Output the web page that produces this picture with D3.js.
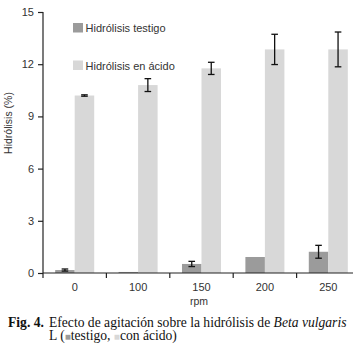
<!DOCTYPE html>
<html>
<head>
<meta charset="utf-8">
<script src="https://cdn.jsdelivr.net/npm/d3@7"></script>
<style>
  body { margin: 0; background: #fff; }
  svg { display: block; }
</style>
</head>
<body>
<div id="chart"></div>
<script>
// data
const rpm = ['0', '100', '150', '200', '250'];
const testigo = [0.17, 0.06, 0.52, 0.92, 1.22];
const testigoErr = [0.06, 0, 0.15, 0, 0.37];
const acido = [10.2, 10.8, 11.76, 12.85, 12.85];
const acidoErr = [0.04, 0.37, 0.35, 0.87, 1.0];
const yTicks = [0, 3, 6, 9, 12, 15];
const seriesNames = ['Hidrólisis testigo', 'Hidrólisis en ácido'];
const colors = ['#9b9b9b', '#d8d8d8'];

const width = 355, height = 346;
const margin = { top: 12, left: 43, bottom: 73 };

const svg = d3.select('#chart')
    .append('svg')
    .attr('width', width)
    .attr('height', height)
    .style('font-family', '"Liberation Sans", Arial, sans-serif');

// scales
const x = d3.scaleBand()
    .domain(rpm)
    .range([margin.left, margin.left + 63.4 * rpm.length])
    .padding(0);

const xSub = d3.scaleBand()
    .domain(['testigo', 'acido'])
    .range([0, x.bandwidth()])
    .paddingInner(0)
    .paddingOuter(0.625);

const y = d3.scaleLinear()
    .domain([0, 15])
    .range([height - margin.bottom, margin.top]);

const rows = rpm.map((r, i) => ({
    rpm: r,
    values: [
        { key: 'testigo', v: testigo[i], e: testigoErr[i], c: colors[0] },
        { key: 'acido', v: acido[i], e: acidoErr[i], c: colors[1] }
    ]
}));

// bars
const groups = svg.selectAll('.grp')
    .data(rows)
    .enter()
    .append('g')
    .attr('class', 'grp')
    .attr('transform', d => `translate(${x(d.rpm)},0)`);

groups.selectAll('rect')
    .data(d => d.values)
    .enter()
    .append('rect')
    .attr('x', d => xSub(d.key))
    .attr('y', d => y(d.v))
    .attr('width', xSub.bandwidth())
    .attr('height', d => y(0) - y(d.v))
    .attr('fill', d => d.c);

// error bars
const cap = 3.3;
const errs = groups.selectAll('.err')
    .data(d => d.values.filter(v => v.e > 0))
    .enter()
    .append('g')
    .attr('class', 'err')
    .attr('stroke', '#111')
    .attr('stroke-width', 1.3);

errs.append('line')
    .attr('x1', d => xSub(d.key) + xSub.bandwidth() / 2)
    .attr('x2', d => xSub(d.key) + xSub.bandwidth() / 2)
    .attr('y1', d => y(d.v + d.e))
    .attr('y2', d => y(d.v - d.e));

[1, -1].forEach(s => {
    errs.append('line')
        .attr('x1', d => xSub(d.key) + xSub.bandwidth() / 2 - cap)
        .attr('x2', d => xSub(d.key) + xSub.bandwidth() / 2 + cap)
        .attr('y1', d => y(d.v + s * d.e))
        .attr('y2', d => y(d.v + s * d.e));
});

// y axis
const yAxis = d3.axisLeft(y)
    .tickValues(yTicks)
    .tickSize(5)
    .tickPadding(4);

const gy = svg.append('g')
    .attr('transform', `translate(${margin.left},0)`)
    .call(yAxis);
gy.select('.domain').attr('d', `M0,${y(15)}V${y(0) + 5}`);
gy.selectAll('line, path').attr('stroke', '#222').attr('stroke-width', 1.2);
gy.selectAll('text')
    .attr('font-size', 11)
    .attr('fill', '#333')
    .style('font-family', '"Liberation Sans", Arial, sans-serif');

// x axis: labels centred, ticks at category boundaries
const xAxis = d3.axisBottom(x).tickSize(0).tickPadding(10);
const gx = svg.append('g')
    .attr('transform', `translate(0,${y(0)})`)
    .call(xAxis);
gx.select('.domain')
    .attr('d', `M${margin.left},0H353`)
    .attr('stroke', '#222')
    .attr('stroke-width', 1.2);
gx.selectAll('text')
    .attr('font-size', 11)
    .attr('fill', '#333')
    .style('font-family', '"Liberation Sans", Arial, sans-serif');

gx.selectAll('.bound')
    .data(rpm.slice(1))
    .enter()
    .append('line')
    .attr('x1', d => x(d))
    .attr('x2', d => x(d))
    .attr('y1', 0)
    .attr('y2', 5)
    .attr('stroke', '#222')
    .attr('stroke-width', 1.2);

// axis titles
svg.append('text')
    .attr('x', 199)
    .attr('y', 305)
    .attr('text-anchor', 'middle')
    .attr('font-size', 10.5)
    .attr('fill', '#333')
    .text('rpm');

svg.append('text')
    .attr('transform', 'translate(12,123) rotate(-90)')
    .attr('text-anchor', 'middle')
    .attr('font-size', 10.5)
    .attr('fill', '#333')
    .text('Hidrólisis (%)');

// legend
const legend = svg.append('g').attr('transform', 'translate(73,23)');
const li = legend.selectAll('g')
    .data(seriesNames)
    .enter()
    .append('g')
    .attr('transform', (d, i) => `translate(0,${i * 37.5})`);
li.append('rect')
    .attr('width', 10)
    .attr('height', 9.5)
    .attr('fill', (d, i) => colors[i]);
li.append('text')
    .attr('x', 12.5)
    .attr('y', 9)
    .attr('font-size', 11)
    .attr('fill', '#333')
    .text(d => d);

// caption
const serif = '"Liberation Serif", "Times New Roman", serif';
const cap1 = svg.append('text')
    .attr('x', 8)
    .attr('y', 327)
    .attr('font-size', 13.6)
    .attr('fill', '#111')
    .style('font-family', serif);
cap1.append('tspan').attr('font-weight', 'bold').text('Fig. 4.');
cap1.append('tspan').attr('x', 49).text('Efecto de agitación sobre la hidrólisis de ');
cap1.append('tspan').attr('font-style', 'italic').text('Beta vulgaris');

const cap2 = svg.append('text')
    .attr('x', 49)
    .attr('y', 339.5)
    .attr('font-size', 13.6)
    .attr('fill', '#111')
    .style('font-family', serif);
cap2.append('tspan').text('L (');
cap2.append('tspan').attr('fill', colors[0]).attr('font-size', 10).text('■');
cap2.append('tspan').text('testigo, ');
cap2.append('tspan').attr('fill', colors[1]).attr('font-size', 10).text('■');
cap2.append('tspan').text('con ácido)');
</script>
</body>
</html>
